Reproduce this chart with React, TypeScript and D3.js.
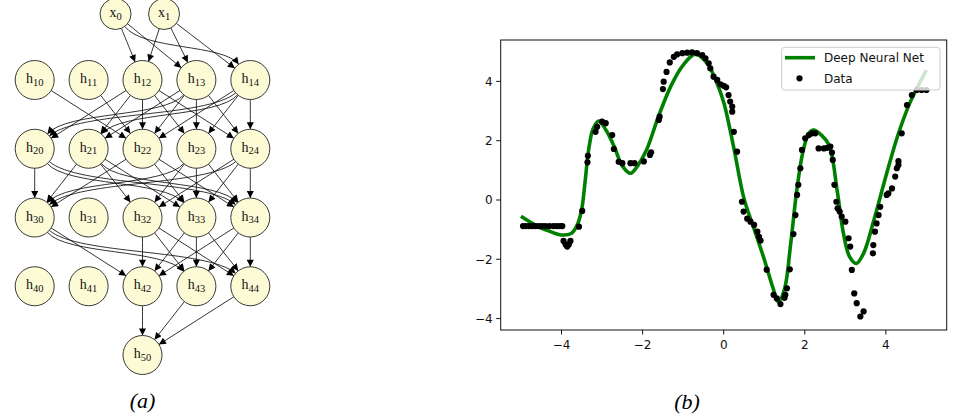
import React from "react";
import * as d3 from "d3";

// ---------- Graph (a) data ----------
const inputNodes = ["x0", "x1"];
const inputCols = [1.5, 2.4];
const hiddenLayers = [
  ["h10", "h11", "h12", "h13", "h14"],
  ["h20", "h21", "h22", "h23", "h24"],
  ["h30", "h31", "h32", "h33", "h34"],
  ["h40", "h41", "h42", "h43", "h44"],
];
const outputNodes = ["h50"];
const outputCols = [2];

const graphEdges: [string, string][] = [
  ["x0", "h12"], ["x0", "h13"], ["x0", "h14"],
  ["x1", "h12"], ["x1", "h13"], ["x1", "h14"],
  ["h10", "h22"], ["h11", "h22"],
  ["h12", "h20"], ["h12", "h21"], ["h12", "h22"], ["h12", "h23"], ["h12", "h24"],
  ["h13", "h20"], ["h13", "h21"], ["h13", "h22"], ["h13", "h23"], ["h13", "h24"],
  ["h14", "h20"], ["h14", "h21"], ["h14", "h22"], ["h14", "h23"], ["h14", "h24"],
  ["h20", "h30"], ["h20", "h33"], ["h20", "h34"],
  ["h21", "h30"], ["h21", "h32"], ["h21", "h33"], ["h21", "h34"],
  ["h22", "h30"], ["h22", "h33"], ["h22", "h34"],
  ["h23", "h30"], ["h23", "h32"], ["h23", "h33"], ["h23", "h34"],
  ["h24", "h30"], ["h24", "h32"], ["h24", "h33"], ["h24", "h34"],
  ["h30", "h42"], ["h30", "h43"], ["h30", "h44"],
  ["h32", "h42"], ["h32", "h43"], ["h32", "h44"],
  ["h33", "h42"], ["h33", "h43"], ["h33", "h44"],
  ["h34", "h42"], ["h34", "h43"], ["h34", "h44"],
  ["h42", "h50"], ["h43", "h50"], ["h44", "h50"],
];

// ---------- Plot (b) data ----------
const curveX = [-5.0, -4.6, -4.3, -4.0, -3.75, -3.6, -3.5, -3.42, -3.33, -3.22, -3.08, -2.9, -2.7, -2.5, -2.3, -2.1, -1.9, -1.6, -1.3, -1.0, -0.7, -0.4, -0.2, 0.0, 0.25, 0.5, 0.75, 1.0, 1.2, 1.35, 1.5, 1.65, 1.8, 1.95, 2.1, 2.22, 2.4, 2.6, 2.8, 2.95, 3.1, 3.27, 3.45, 3.7, 4.0, 4.3, 4.6, 5.0];
const curveY = [-0.55, -0.88, -1.05, -1.18, -1.12, -0.8, -0.3, 0.6, 1.7, 2.4, 2.66, 2.35, 1.8, 1.15, 0.9, 1.2, 1.7, 2.85, 3.85, 4.55, 4.92, 4.6, 4.05, 3.3, 1.75, 0.05, -0.98, -2.0, -2.9, -3.43, -3.0, -1.5, 0.3, 1.6, 2.25, 2.36, 2.2, 1.85, 0.3, -1.1, -1.9, -2.14, -1.8, -0.7, 0.8, 2.2, 3.3, 4.38];

const dataX = [
  -4.95, -4.88, -4.8, -4.72, -4.64, -4.56, -4.48, -4.4, -4.3, -4.2, -4.12, -4.04, -3.98,
  -3.95, -3.9, -3.86, -3.82, -3.78,
  -3.57, -3.49, -3.36, -3.35,
  -3.16, -3.12, -3.0, -2.91,
  -2.75, -2.71, -2.59, -2.5, -2.3, -2.2, -1.97, -1.82, -1.79,
  -1.6, -1.58, -1.5, -1.48, -1.41, -1.33,
  -1.23, -1.15, -1.02, -0.9, -0.78, -0.66, -0.53, -0.45, -0.37, -0.33,
  -0.25, -0.16, -0.08, 0.0, 0.06, 0.12, 0.16, 0.21, 0.21, 0.25, 0.33,
  0.45, 0.49, 0.58, 0.66, 0.75, 0.83, 0.87, 0.91, 1.06,
  1.23, 1.31, 1.4, 1.5, 1.52, 1.56, 1.63,
  1.72, 1.77, 1.81, 1.84, 1.89, 1.93, 2.01, 2.1, 2.18, 2.26,
  2.34, 2.47, 2.55, 2.63, 2.67, 2.69, 2.73, 2.78, 2.81, 2.86, 2.91, 3.0, 3.08, 3.12, 3.16, 3.22, 3.28, 3.37, 3.45,
  3.68, 3.69, 3.73, 3.77, 3.82, 3.86, 4.02, 4.06, 4.15, 4.23, 4.27, 4.31, 4.31, 4.39, 4.52, 4.64, 4.76, 4.88, 5.0,
];
const dataY = [
  -0.88, -0.88, -0.88, -0.88, -0.88, -0.88, -0.88, -0.88, -0.88, -0.88, -0.88, -0.88, -0.88,
  -1.38, -1.5, -1.57, -1.5, -1.38,
  -0.9, -0.37, 1.27, 1.49,
  2.3, 2.47, 2.64, 2.59,
  2.19, 1.72, 1.29, 1.24, 1.24, 1.24, 1.3, 1.52, 1.61,
  2.7, 2.81, 3.74, 3.99, 4.32, 4.64,
  4.83, 4.91, 4.95, 4.97, 4.98, 4.95, 4.89, 4.78, 4.61, 4.44,
  4.16, 4.05, 3.9, 3.85, 3.8, 3.54, 3.32, 3.15, 2.98, 2.3, 1.63,
  -0.06, -0.39, -0.63, -0.73, -0.84, -1.07, -1.24, -1.37, -2.35,
  -3.2, -3.32, -3.51, -3.3, -3.2, -2.98, -2.34,
  -1.15, -0.51, 0.17, 0.51, 1.07, 1.69, 2.08, 2.19, 2.25, 2.25,
  1.74, 1.74, 1.76, 1.8, 1.6, 1.35, 0.51, -0.06, -0.28, -0.39, -0.56, -0.73, -1.29, -1.57, -2.36, -3.15, -3.48, -3.93, -3.76,
  -1.8, -1.52, -1.07, -0.79, -0.51, -0.23, 0.17, 0.22, 0.39, 0.79, 1.07, 1.18, 1.31, 2.25, 3.2, 3.54, 3.71, 3.71, 3.71,
];

const xTicks = [-4, -2, 0, 2, 4];
const yTicks = [-4, -2, 0, 2, 4];
const legendLabels = ["Deep Neural Net", "Data"];
const panelLabels = ["(a)", "(b)"];

const fmt = (v: number) => (v < 0 ? "\u2212" + Math.abs(v) : String(v));

export default function App() {
  const W = 954, H = 419;

  // graph layout
  const colScale = d3.scaleLinear().domain([0, 4]).range([34.7, 250.3]);
  const layerScale = d3.scaleLinear().domain([0, 1, 5]).range([14, 80, 355]);
  type N = { name: string; x: number; y: number; r: number };
  const nodes: N[] = [];
  inputNodes.forEach((n, i) => nodes.push({ name: n, x: colScale(inputCols[i]), y: layerScale(0), r: 15.5 }));
  hiddenLayers.forEach((layer, li) =>
    layer.forEach((n, ci) => nodes.push({ name: n, x: colScale(ci), y: layerScale(li + 1), r: 19.5 }))
  );
  outputNodes.forEach((n, i) => nodes.push({ name: n, x: colScale(outputCols[i]), y: layerScale(5), r: 19.5 }));
  const byName = new Map(nodes.map((n) => [n.name, n]));

  const edgePath = (a: N, b: N) => {
    const dx = b.x - a.x, dy = b.y - a.y;
    const span = Math.abs(dx) / (colScale(1) - colScale(0));
    let c1x: number, c1y: number, c2x: number, c2y: number;
    if (span >= 2.4) {
      c1x = a.x + dx * 0.2; c1y = a.y + dy * 0.55;
      c2x = b.x - dx * 0.2; c2y = b.y - dy * 0.55;
    } else {
      c1x = a.x + dx * 0.33; c1y = a.y + dy * 0.33;
      c2x = b.x - dx * 0.33; c2y = b.y - dy * 0.33;
    }
    const u1 = Math.hypot(c1x - a.x, c1y - a.y);
    const sx = a.x + ((c1x - a.x) / u1) * a.r, sy = a.y + ((c1y - a.y) / u1) * a.r;
    const u2 = Math.hypot(c2x - b.x, c2y - b.y);
    const ex = b.x + ((c2x - b.x) / u2) * b.r, ey = b.y + ((c2y - b.y) / u2) * b.r;
    const p = d3.path();
    p.moveTo(sx, sy);
    p.bezierCurveTo(c1x, c1y, c2x, c2y, ex, ey);
    return p.toString();
  };

  // plot
  const L = 500.7, R = 946.7, T = 40, B = 330;
  const xS = d3.scaleLinear().domain([-5.5, 5.5]).range([L, R]);
  const yS = d3.scaleLinear().domain([-4.385, 5.396]).range([B, T]);
  const pts = curveX.map((x, i) => [x, curveY[i]] as [number, number]);
  const line = d3.line<[number, number]>()
    .x((d) => xS(d[0]))
    .y((d) => yS(d[1]))
    .curve(d3.curveCatmullRom.alpha(0.5));

  const font = "DejaVu Sans, sans-serif";

  return (
    <svg width={W} height={H} style={{ position: "absolute", left: 0, top: 0, background: "#fff" }}>
      <defs>
        <marker id="arr" viewBox="0 0 10 10" refX="10" refY="5" markerWidth="9" markerHeight="7"
          markerUnits="userSpaceOnUse" orient="auto">
          <path d="M0,0 L10,5 L0,10 z" fill="#000" />
        </marker>
        <clipPath id="plotclip">
          <rect x={L} y={T} width={R - L} height={B - T} />
        </clipPath>
      </defs>

      {/* ----- Graph (a) ----- */}
      <g>
        {graphEdges.map(([s, t], i) => {
          const a = byName.get(s)!, b = byName.get(t)!;
          return <path key={i} d={edgePath(a, b)} fill="none" stroke="#000" strokeWidth={0.8} markerEnd="url(#arr)" />;
        })}
        {nodes.map((n) => (
          <g key={n.name}>
            <circle cx={n.x} cy={n.y} r={n.r} fill="#fdfbd6" stroke="#222" strokeWidth={0.9} />
            <text x={n.x} y={n.y + 3} textAnchor="middle" fontFamily="Liberation Serif, serif" fontSize={14} fill="#111">
              {n.name[0]}
              <tspan fontSize={10.5} dy={2.5}>{n.name.slice(1)}</tspan>
            </text>
          </g>
        ))}
        <text x={142.5} y={408} textAnchor="middle" fontFamily="Liberation Serif, serif" fontStyle="italic" fontSize={22}>
          {panelLabels[0]}
        </text>
      </g>

      {/* ----- Plot (b) ----- */}
      <g>
        <g clipPath="url(#plotclip)">
          <path d={line(pts) || ""} fill="none" stroke="#008000" strokeWidth={3.6} />
          {dataX.map((x, i) => (
            <circle key={i} cx={xS(x)} cy={yS(dataY[i])} r={3.1} fill="#000" />
          ))}
        </g>
        <rect x={L} y={T} width={R - L} height={B - T} fill="none" stroke="#111" strokeWidth={1} />
        {xTicks.map((t) => (
          <g key={"x" + t}>
            <line x1={xS(t)} x2={xS(t)} y1={B} y2={B + 4.5} stroke="#111" strokeWidth={1} />
            <text x={xS(t)} y={B + 19} textAnchor="middle" fontFamily={font} fontSize={12} fill="#111">{fmt(t)}</text>
          </g>
        ))}
        {yTicks.map((t) => (
          <g key={"y" + t}>
            <line x1={L - 4.5} x2={L} y1={yS(t)} y2={yS(t)} stroke="#111" strokeWidth={1} />
            <text x={L - 8} y={yS(t) + 4.3} textAnchor="end" fontFamily={font} fontSize={12} fill="#111">{fmt(t)}</text>
          </g>
        ))}
        {/* legend */}
        <rect x={781.7} y={47.3} width={158.3} height={42.7} rx={3} fill="#fff" fillOpacity={0.8} stroke="#ccc" strokeWidth={1} />
        <line x1={785} x2={815} y1={57.7} y2={57.7} stroke="#008000" strokeWidth={3.6} />
        <text x={824} y={62} fontFamily={font} fontSize={12} fill="#111">{legendLabels[0]}</text>
        <circle cx={799.5} cy={78.3} r={3.1} fill="#000" />
        <text x={824} y={82.5} fontFamily={font} fontSize={12} fill="#111">{legendLabels[1]}</text>
        <text x={687} y={409} textAnchor="middle" fontFamily="Liberation Serif, serif" fontStyle="italic" fontSize={22}>
          {panelLabels[1]}
        </text>
      </g>
    </svg>
  );
}
